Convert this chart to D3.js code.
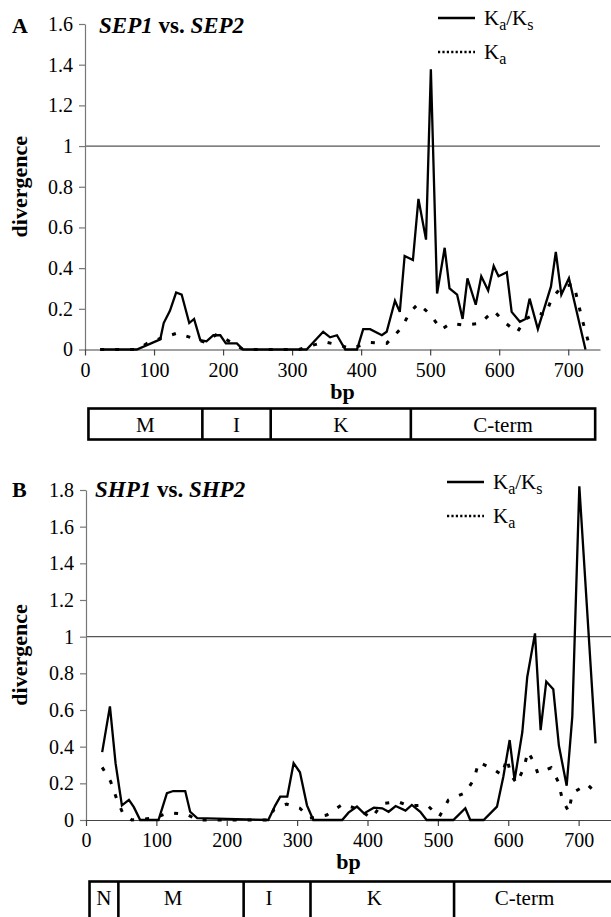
<!DOCTYPE html>
<html><head><meta charset="utf-8">
<script src="https://cdn.jsdelivr.net/npm/d3@7"></script>
<style>
body{margin:0;background:#fff}
svg{display:block;background:#fff}
svg text{font-family:"Liberation Serif","Times New Roman",Times,serif !important;fill:#000}
</style>
</head><body>
<svg id="chart" width="611" height="917"></svg>
<script>
// ---------- data ----------
const xTicks = [0, 100, 200, 300, 400, 500, 600, 700];
const yTicksA = [0, 0.2, 0.4, 0.6, 0.8, 1, 1.2, 1.4, 1.6];
const yTicksB = [0, 0.2, 0.4, 0.6, 0.8, 1, 1.2, 1.4, 1.6, 1.8];

// Panel A: SEP1 vs SEP2
const kaksA_bp = [22, 75, 109, 114, 123, 132, 140, 151, 158, 167, 176, 186, 196, 204, 220, 229, 321, 345, 355, 365, 377, 394, 403, 413, 430, 437, 449, 456, 463, 475, 483, 494, 501, 510, 521, 528, 539, 547, 554, 566, 574, 584, 592, 599, 611, 618, 630, 638, 644, 656, 675, 682, 690, 701, 725];
const kaksA    = [0, 0, 0.05, 0.13, 0.19, 0.28, 0.27, 0.13, 0.15, 0.046, 0.04, 0.07, 0.07, 0.03, 0.03, 0, 0, 0.087, 0.06, 0.07, 0, 0, 0.10, 0.10, 0.07, 0.087, 0.24, 0.185, 0.46, 0.44, 0.74, 0.54, 1.377, 0.275, 0.50, 0.30, 0.27, 0.15, 0.35, 0.22, 0.36, 0.29, 0.41, 0.36, 0.38, 0.185, 0.136, 0.15, 0.25, 0.10, 0.31, 0.48, 0.27, 0.35, 0];
const kaA_bp   = [22, 75, 90, 109, 133, 155, 174, 191, 212, 229, 310, 324, 348, 370, 385, 400, 413, 437, 459, 470, 483, 501, 516, 529, 549, 572, 592, 610, 626, 638, 656, 667, 676, 691, 708, 720, 729];
const kaA      = [0, 0, 0.03, 0.054, 0.08, 0.057, 0.035, 0.075, 0.035, 0, 0, 0.016, 0.037, 0.02, 0.005, 0.02, 0.035, 0.03, 0.108, 0.18, 0.226, 0.169, 0.098, 0.128, 0.12, 0.128, 0.19, 0.128, 0.084, 0.15, 0.18, 0.17, 0.25, 0.31, 0.32, 0.15, 0.04];

// Panel B: SHP1 vs SHP2
const kaksB_bp = [23, 34, 42, 51, 61, 68, 77, 103, 115, 124, 141, 148, 158, 259, 269, 276, 286, 295, 304, 314, 323, 364, 373, 385, 395, 409, 421, 430, 440, 454, 463, 475, 484, 522, 539, 546, 565, 584, 593, 602, 609, 620, 627, 638, 646, 654, 664, 672, 683, 691, 701, 724];
const kaksB    = [0.37, 0.62, 0.31, 0.08, 0.11, 0.07, 0, 0, 0.146, 0.158, 0.158, 0.045, 0.01, 0, 0.08, 0.127, 0.127, 0.31, 0.26, 0.08, 0, 0, 0.04, 0.073, 0.036, 0.067, 0.064, 0.045, 0.076, 0.051, 0.082, 0.045, 0, 0, 0.064, 0, 0, 0.073, 0.236, 0.436, 0.218, 0.48, 0.78, 1.018, 0.49, 0.755, 0.713, 0.405, 0.187, 0.564, 1.82, 0.418];
const kaB_bp   = [23, 35, 44, 52, 65, 96, 118, 144, 158, 260, 267, 285, 304, 318, 342, 365, 387, 406, 421, 443, 458, 485, 502, 515, 539, 551, 558, 579, 591, 598, 604, 612, 622, 628, 637, 642, 661, 671, 677, 686, 691, 712, 728];
const kaB      = [0.287, 0.21, 0.11, 0.04, 0, 0.01, 0.04, 0.03, 0, 0, 0.058, 0.087, 0.064, 0.01, 0.027, 0.087, 0.058, 0.01, 0.09, 0.10, 0.078, 0.08, 0.018, 0.109, 0.149, 0.22, 0.315, 0.277, 0.245, 0.336, 0.245, 0.2, 0.282, 0.373, 0.31, 0.255, 0.285, 0.209, 0.11, 0.045, 0.146, 0.195, 0.136];

// domain bars (bp boundaries) and labels
const domainsA_bp = [5, 170, 269, 472, 739];
const domainsA_lab = ["M", "I", "K", "C-term"];
const domainsB_bp = [5, 46, 224, 319, 523, 780];
const domainsB_lab = ["N", "M", "I", "K", "C-term"];

// ---------- layout ----------
const W = 611, H = 917;
const FONT = '"Liberation Serif","Times New Roman",Times,serif';
const svg = d3.select("#chart");
const fontTick = 20;

const panels = [
  {letter: "A", g1: "SEP1", g2: "SEP2", xR: [85, 600], yR: [349.5, 24], yMax: 1.6, yTicks: yTicksA,
   kaksX: kaksA_bp, kaks: kaksA, kaX: kaA_bp, ka: kaA, dom: domainsA_bp, domLab: domainsA_lab,
   boxTop: 408.5, boxH: 31, legX: 438, legY: 18, titleX: 99, titleY: 33},
  {letter: "B", g1: "SHP1", g2: "SHP2", xR: [86, 611], yR: [820, 490], yMax: 1.8, yTicks: yTicksB,
   kaksX: kaksB_bp, kaks: kaksB, kaX: kaB_bp, ka: kaB, dom: domainsB_bp, domLab: domainsB_lab,
   boxTop: 881.5, boxH: 45, legX: 447, legY: 482, titleX: 95, titleY: 497}
];

panels.forEach(p => {
  const x = d3.scaleLinear().domain([0, 746]).range(p.xR);
  const y = d3.scaleLinear().domain([0, p.yMax]).range(p.yR);
  const g = svg.append("g").attr("font-family", FONT);

  g.append("line").attr("x1", p.xR[0]).attr("x2", p.xR[1])
    .attr("y1", y(1)).attr("y2", y(1))
    .attr("stroke", "#555").attr("stroke-width", 1.3);

  const yAx = g.append("g").attr("transform", `translate(${p.xR[0]},0)`)
    .call(d3.axisLeft(y).tickValues(p.yTicks).tickSize(6).tickSizeOuter(0).tickPadding(6)
      .tickFormat(d => String(Math.round(d * 10) / 10)));
  yAx.attr("font-family", FONT).attr("font-size", fontTick);
  yAx.select(".domain").attr("stroke", "#777").attr("stroke-width", 1.2);
  yAx.selectAll(".tick line").attr("stroke", "#777").attr("stroke-width", 1.2);
  yAx.selectAll("text").attr("fill", "#000");

  const xAx = g.append("g").attr("transform", `translate(0,${y(0)})`)
    .call(d3.axisBottom(x).tickValues(xTicks).tickSize(6).tickSizeOuter(0).tickPadding(7)
      .tickFormat(d3.format("d")));
  xAx.attr("font-family", FONT).attr("font-size", fontTick);
  xAx.select(".domain").attr("stroke", "#444").attr("stroke-width", 1.2);
  xAx.selectAll(".tick line").attr("stroke", "#444").attr("stroke-width", 1.2);
  xAx.selectAll("text").attr("fill", "#000");

  g.append("text").attr("transform", `translate(27,${(p.yR[0] + p.yR[1]) / 2}) rotate(-90)`)
    .attr("text-anchor", "middle").attr("font-size", 22).attr("font-weight", "bold").text("divergence");
  g.append("text").attr("x", (p.xR[0] + p.xR[1]) / 2).attr("y", y(0) + 49)
    .attr("text-anchor", "middle").attr("font-size", 22).attr("font-weight", "bold").text("bp");

  g.append("text").attr("x", 12).attr("y", p.titleY).attr("font-size", 22).attr("font-weight", "bold").text(p.letter);
  const t = g.append("text").attr("x", p.titleX).attr("y", p.titleY).attr("font-size", 23).attr("font-weight", "bold");
  t.append("tspan").attr("font-style", "italic").text(p.g1);
  t.append("tspan").text(" vs. ");
  t.append("tspan").attr("font-style", "italic").text(p.g2);

  const kaksData = p.kaksX.map((b, i) => [b, p.kaks[i]]);
  const kaData = p.kaX.map((b, i) => [b, p.ka[i]]);
  const line = d3.line().x(d => x(d[0])).y(d => y(d[1]));
  g.append("path").datum(kaData).attr("d", line).attr("fill", "none")
    .attr("stroke", "#000").attr("stroke-width", 3).attr("stroke-dasharray", "4,11");
  g.append("path").datum(kaksData).attr("d", line).attr("fill", "none")
    .attr("stroke", "#000").attr("stroke-width", 2.3).attr("stroke-linejoin", "miter");

  const lg = g.append("g");
  lg.append("line").attr("x1", p.legX).attr("x2", p.legX + 37).attr("y1", p.legY).attr("y2", p.legY)
    .attr("stroke", "#000").attr("stroke-width", 2.3);
  lg.append("line").attr("x1", p.legX).attr("x2", p.legX + 37).attr("y1", p.legY + 34).attr("y2", p.legY + 34)
    .attr("stroke", "#000").attr("stroke-width", 2.6).attr("stroke-dasharray", "2.2,2.2");
  const l1 = lg.append("text").attr("x", p.legX + 46).attr("y", p.legY + 7).attr("font-size", 21);
  l1.append("tspan").text("K");
  l1.append("tspan").attr("font-size", 16).attr("dy", 5).text("a");
  l1.append("tspan").attr("dy", -5).text("/K");
  l1.append("tspan").attr("font-size", 16).attr("dy", 5).text("s");
  const l2 = lg.append("text").attr("x", p.legX + 46).attr("y", p.legY + 41).attr("font-size", 21);
  l2.append("tspan").text("K");
  l2.append("tspan").attr("font-size", 16).attr("dy", 5).text("a");

  const bg = g.append("g");
  const xs = p.dom.map(b => x(b));
  bg.append("rect").attr("x", xs[0]).attr("y", p.boxTop).attr("width", xs[xs.length - 1] - xs[0]).attr("height", p.boxH)
    .attr("fill", "none").attr("stroke", "#000").attr("stroke-width", 2.6);
  xs.slice(1, -1).forEach(xx => {
    bg.append("line").attr("x1", xx).attr("x2", xx).attr("y1", p.boxTop).attr("y2", p.boxTop + p.boxH)
      .attr("stroke", "#000").attr("stroke-width", 2.6);
  });
  p.domLab.forEach((lab, i) => {
    const a = xs[i], b = Math.min(xs[i + 1], W);
    bg.append("text").attr("x", (a + b) / 2 - (i > 0 && p.letter === "B" ? 8 : 0)).attr("y", p.boxTop + 23)
      .attr("text-anchor", "middle").attr("font-size", 21).text(lab);
  });
});
</script>
</body></html>
